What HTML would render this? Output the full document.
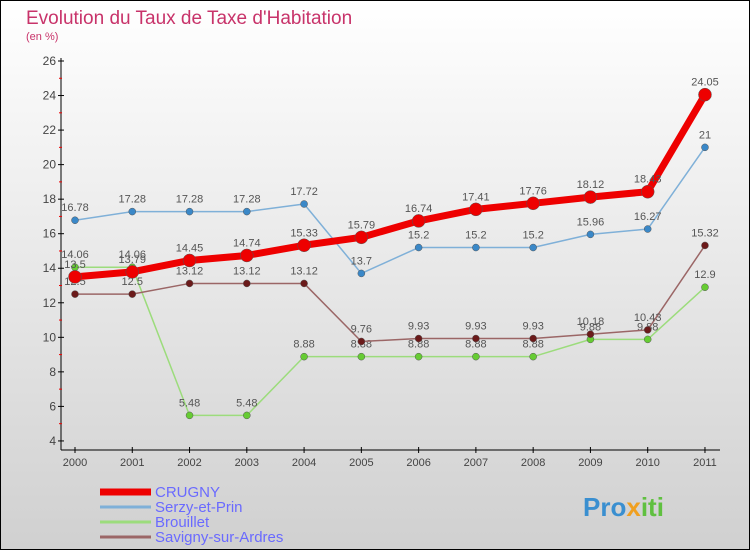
<!DOCTYPE html>
<html><head><meta charset="utf-8"><style>
html,body{margin:0;padding:0}
body{width:750px;height:550px;overflow:hidden;font-family:"Liberation Sans",sans-serif}
</style></head><body>
<svg id="chart" width="750" height="550" xmlns="http://www.w3.org/2000/svg">
<defs><linearGradient id="bg" x1="0" y1="0" x2="0" y2="1"><stop offset="0" stop-color="#ffffff"/><stop offset="1" stop-color="#d0d0d0"/></linearGradient></defs>
<rect x="0.5" y="0.5" width="749" height="549" fill="url(#bg)" stroke="#000"/>
<text x="26" y="24" font-size="19" fill="#c8336a">Evolution du Taux de Taxe d'Habitation</text>
<text x="26" y="40" font-size="11" fill="#c8336a">(en %)</text>
<g id="axes"></g><g id="series"></g><g id="legend"></g>
<text x="583" y="516" font-size="26" font-weight="bold" fill="#3a8fd0">Pro<tspan fill="#f0a020">x</tspan><tspan fill="#60c040">iti</tspan></text>
</svg>
<script>
const years=[2000,2001,2002,2003,2004,2005,2006,2007,2008,2009,2010,2011];
const crugny=[13.5,13.79,14.45,14.74,15.33,15.79,16.74,17.41,17.76,18.12,18.43,24.05];
const serzy=[16.78,17.28,17.28,17.28,17.72,13.7,15.2,15.2,15.2,15.96,16.27,21];
const brouillet=[14.06,14.06,5.48,5.48,8.88,8.88,8.88,8.88,8.88,9.88,9.88,12.9];
const savigny=[12.5,12.5,13.12,13.12,13.12,9.76,9.93,9.93,9.93,10.18,10.43,15.32];
const yTicks=[4,6,8,10,12,14,16,18,20,22,24,26];
const NS="http://www.w3.org/2000/svg";
const x=i=>75+i*57.27;
const y=v=>61+(26-v)*17.27;
function mk(t,a,p){const e=document.createElementNS(NS,t);for(const k in a)e.setAttribute(k,a[k]);p.appendChild(e);return e;}
const ax=document.getElementById('axes');
let l=mk('line',{x1:61,y1:58,x2:61,y2:450,stroke:'#000'},ax);


l=mk('line',{x1:61,y1:450,x2:720,y2:450,stroke:'#000'},ax);


yTicks.forEach(v=>{
 mk('line',{x1:58,y1:y(v),x2:64,y2:y(v),stroke:'#000'},ax);
 if(v<26) mk('line',{x1:59,y1:y(v+1),x2:62,y2:y(v+1),stroke:'#e00'},ax);
 const t=mk('text',{x:56,y:y(v)+4,'text-anchor':'end','font-size':12,fill:'#444'},ax);t.textContent=v;
 
 
});
years.forEach((yr,i)=>{
 mk('line',{x1:x(i),y1:447,x2:x(i),y2:453,stroke:'#000'},ax);
 const t=mk('text',{x:x(i),y:466,'text-anchor':'middle','font-size':11,fill:'#444'},ax);t.textContent=yr;
 
 
});
const sg=document.getElementById('series');
function draw(vals,col,dot,w,r,name){
 const g=mk('g',{},sg);
 
 
 mk('polyline',{points:vals.map((v,i)=>x(i)+','+y(v)).join(' '),fill:'none',stroke:col,'stroke-width':w,'stroke-linejoin':'round'},g);
 vals.forEach((v,i)=>{
  const c=mk('circle',{cx:x(i),cy:y(v),r:r,fill:dot,stroke:'#555','stroke-width':0.5},g);
  
  
  const t=mk('text',{x:x(i),y:y(v)-9,'text-anchor':'middle','font-size':11,fill:'#555'},g);t.textContent=v;
  
  
 });
}
draw(serzy,'#7fb0d8','#3a88c8',1.5,3.5,'serzy-series');
draw(brouillet,'#9cdc7c','#66cc33',1.5,3.5,'brouillet-series');
draw(savigny,'#9b6666','#6b1a1a',1.5,3.5,'savigny-series');
draw(crugny,'#ee0000','#ee0000',7,6.5,'crugny-series');
const lg=document.getElementById('legend');
const names=['CRUGNY','Serzy-et-Prin','Brouillet','Savigny-sur-Ardres'];
const cols=['#ee0000','#7fb0d8','#9cdc7c','#9b6666'];
const ws=[7,3,3,3];
names.forEach((n,i)=>{
 const yy=492+i*15;
 const g=mk('g',{},lg);
 
 
 mk('line',{x1:100,y1:yy,x2:151,y2:yy,stroke:cols[i],'stroke-width':ws[i]},g);
 const t=mk('text',{x:155,y:yy+5,'font-size':15,fill:'#6a6aff'},g);t.textContent=n;
});
</script>
</body></html>
